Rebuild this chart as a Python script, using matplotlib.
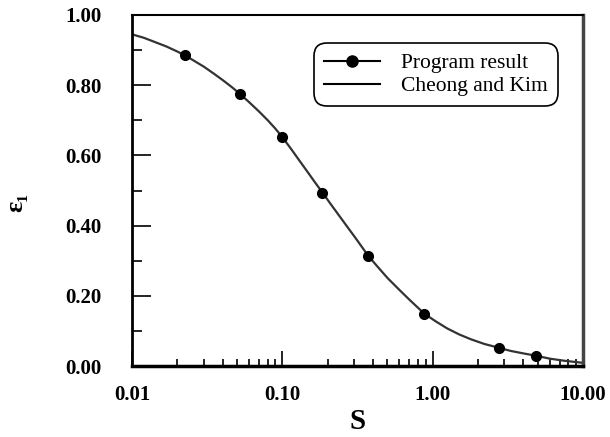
import numpy as np
import matplotlib.pyplot as plt
from matplotlib.lines import Line2D

# Program result (markers)
s_prog = [0.0225, 0.052, 0.10, 0.185, 0.374, 0.88, 2.75, 4.9]
e_prog = [0.885, 0.776, 0.652, 0.494, 0.313, 0.149, 0.052, 0.029]

# Cheong and Kim (line)
s_ck = [0.01, 0.012, 0.014, 0.017, 0.02, 0.0225, 0.026, 0.03, 0.035, 0.04, 0.046,
        0.052, 0.06, 0.07, 0.08, 0.09, 0.10, 0.115, 0.13, 0.15, 0.165, 0.185,
        0.21, 0.24, 0.27, 0.31, 0.374, 0.43, 0.5, 0.6, 0.7, 0.88, 1.05, 1.25,
        1.5, 1.8, 2.2, 2.75, 3.3, 4.0, 4.9, 6.0, 7.5, 10.0]
e_ck = [0.945, 0.935, 0.924, 0.91, 0.896, 0.885, 0.869, 0.853, 0.833, 0.815, 0.795,
        0.776, 0.752, 0.725, 0.70, 0.676, 0.652, 0.617, 0.585, 0.548, 0.523, 0.494,
        0.461, 0.427, 0.397, 0.362, 0.313, 0.283, 0.251, 0.217, 0.189, 0.149, 0.127, 0.107,
        0.09, 0.076, 0.063, 0.052, 0.043, 0.036, 0.029, 0.021, 0.015, 0.009]

plt.rcParams['font.family'] = 'Liberation Serif'

fig = plt.figure(figsize=(6.1, 4.37), dpi=100)
ax = fig.add_axes([132/610, 1-366/437, (583-132)/610, (366-15)/437])

ax.plot(s_ck, e_ck, color='#333333', lw=1.6, zorder=2)
ax.plot(s_prog, e_prog, 'o', color='black', ms=7, zorder=3)

ax.set_xscale('log')
ax.set_xlim(0.01, 10)
ax.set_ylim(0, 1)

ax.set_xticks([0.01, 0.1, 1, 10])
ax.set_xticklabels(['0.01', '0.10', '1.00', '10.00'])
ax.set_yticks([0, 0.2, 0.4, 0.6, 0.8, 1.0])
ax.set_yticklabels(['0.00', '0.20', '0.40', '0.60', '0.80', '1.00'])
ax.set_yticks([0.1, 0.3, 0.5, 0.7, 0.9], minor=True)

ax.tick_params(axis='both', which='major', direction='in', labelsize=15, width=1.2)
ax.tick_params(axis='y', which='major', length=14, pad=22)
ax.tick_params(axis='y', which='minor', direction='in', length=7, width=1.2)
ax.tick_params(axis='x', which='major', length=11, pad=14)
ax.tick_params(axis='x', which='minor', direction='in', length=5, width=1.2)
for lab in ax.get_xticklabels() + ax.get_yticklabels():
    lab.set_fontweight('bold')

ax.spines['left'].set_linewidth(2)
ax.spines['bottom'].set_linewidth(2.5)
ax.spines['top'].set_linewidth(1.5)
ax.spines['right'].set_linewidth(2.5)
ax.spines['right'].set_color('#444444')

ax.set_xlabel('S', fontsize=21, fontweight='bold', labelpad=2)
ax.set_ylabel('ε₁', fontsize=19, fontweight='bold')
ax.yaxis.set_label_coords(-0.232, 0.465)

h1 = Line2D([], [], color='black', lw=1.5, marker='o', ms=8)
h2 = Line2D([], [], color='black', lw=1.5)
leg = ax.legend([h1, h2], ['Program result', 'Cheong and Kim'], loc='upper right',
                bbox_to_anchor=(0.968, 0.95), fontsize=15.5, frameon=True, fancybox=True,
                edgecolor='black', handlelength=2.6, borderpad=0.45, labelspacing=0.15,
                handletextpad=1.0)
leg.get_frame().set_linewidth(1.2)
leg.get_frame().set_alpha(1)
leg.get_frame().set_boxstyle('round', pad=0.0, rounding_size=0.6)

fig.savefig('out.png', dpi=100)
